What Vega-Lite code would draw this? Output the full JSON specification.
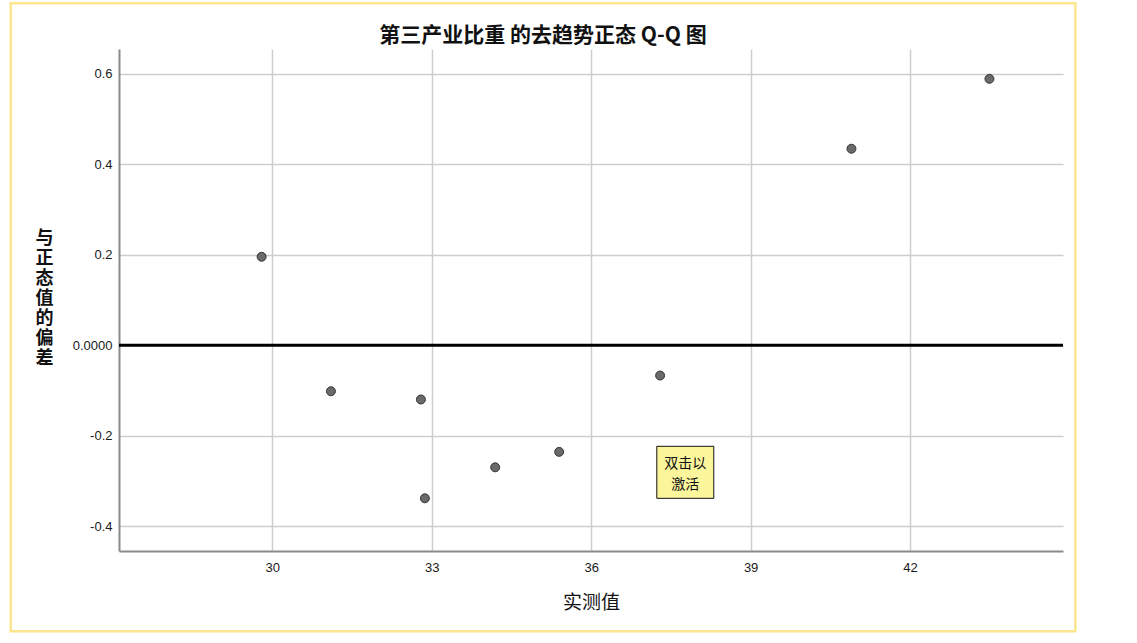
{
  "$schema": "https://vega.github.io/schema/vega-lite/v6.json",
  "autosize": "none",
  "width": 944,
  "height": 502,
  "padding": {"left": 119, "top": 49, "right": 74, "bottom": 92},
  "background": "white",
  "title": {
    "text": "第三产业比重 的去趋势正态 Q-Q 图",
    "font": "Noto Sans CJK SC",
    "fontSize": 21,
    "fontWeight": "bold",
    "color": "#111",
    "anchor": "middle",
    "dx": -48,
    "offset": -44
  },
  "config": {
    "view": {"stroke": null},
    "axis": {
      "grid": true,
      "ticks": false,
      "domainColor": "#8a8a8a",
      "domainWidth": 2,
      "gridColor": "#cdcdcd",
      "gridWidth": 1.5,
      "labelFont": "Liberation Sans",
      "labelFontSize": 13,
      "labelColor": "#1a1a1a",
      "titleFont": "Noto Sans CJK SC",
      "titleColor": "#111",
      "titleFontWeight": "normal"
    }
  },
  "layer": [
    {
      "data": {"values": [{}]},
      "mark": {"type": "rect", "fill": null, "stroke": "#fbe68d", "strokeWidth": 2.5, "clip": false},
      "encoding": {
        "x": {"datum": 25.08, "type": "quantitative"},
        "x2": {"datum": 45.11},
        "y": {"datum": 0.756, "type": "quantitative"},
        "y2": {"datum": -0.6327}
      }
    },
    {
      "data": {"values": [{"ref": 0}]},
      "mark": {"type": "rule", "color": "black", "strokeWidth": 3},
      "encoding": {"y": {"field": "ref", "type": "quantitative"}}
    },
    {
      "data": {
        "values": [
          {"observed": 29.80, "deviation": 0.1956},
          {"observed": 31.104, "deviation": -0.1018},
          {"observed": 32.797, "deviation": -0.120},
          {"observed": 32.872, "deviation": -0.3385},
          {"observed": 34.194, "deviation": -0.270},
          {"observed": 35.398, "deviation": -0.2358},
          {"observed": 37.297, "deviation": -0.067},
          {"observed": 40.897, "deviation": 0.4345},
          {"observed": 43.493, "deviation": 0.589}
        ]
      },
      "mark": {"type": "point", "filled": true, "size": 80, "fill": "#6a6a6a", "stroke": "#333", "strokeWidth": 1, "opacity": 1},
      "encoding": {
        "x": {
          "field": "observed",
          "type": "quantitative",
          "scale": {"domain": [27.117, 44.877], "nice": false, "zero": false},
          "axis": {
            "grid": true,
            "values": [30, 33, 36, 39, 42],
            "labelPadding": 10,
            "title": "实测值",
            "titleFontSize": 19,
            "titleBaseline": "middle",
            "titleY": 51
          }
        },
        "y": {
          "field": "deviation",
          "type": "quantitative",
          "scale": {"domain": [-0.455, 0.655], "nice": false, "zero": false},
          "axis": {
            "grid": true,
            "values": [-0.4, -0.2, 0, 0.2, 0.4, 0.6],
            "labelPadding": 7,
            "labelExpr": "datum.value == 0 ? '0.0000' : (datum.value < 0 ? '-' + format(-datum.value, '.1f') : format(datum.value, '.1f'))",
            "title": ["与", "正", "态", "值", "的", "偏", "差"],
            "titleAngle": 0,
            "titleFontSize": 18,
            "titleFontWeight": "bold",
            "titleLineHeight": 20,
            "titleAlign": "center",
            "titleBaseline": "middle",
            "titleX": -75,
            "titleY": 189
          }
        }
      }
    },
    {
      "data": {"values": [{}]},
      "mark": {"type": "rect", "fill": "#fbf59b", "stroke": "#111", "strokeWidth": 1},
      "encoding": {
        "x": {"datum": 37.235, "type": "quantitative"},
        "x2": {"datum": 38.307},
        "y": {"datum": -0.2235, "type": "quantitative"},
        "y2": {"datum": -0.3385}
      }
    },
    {
      "data": {"values": [{}]},
      "mark": {"type": "text", "text": ["双击以", "激活"], "font": "Noto Sans CJK SC", "fontSize": 14, "lineHeight": 21, "baseline": "middle", "align": "center", "color": "#111"},
      "encoding": {
        "x": {"datum": 37.771, "type": "quantitative"},
        "y": {"datum": -0.2624, "type": "quantitative"}
      }
    }
  ]
}
